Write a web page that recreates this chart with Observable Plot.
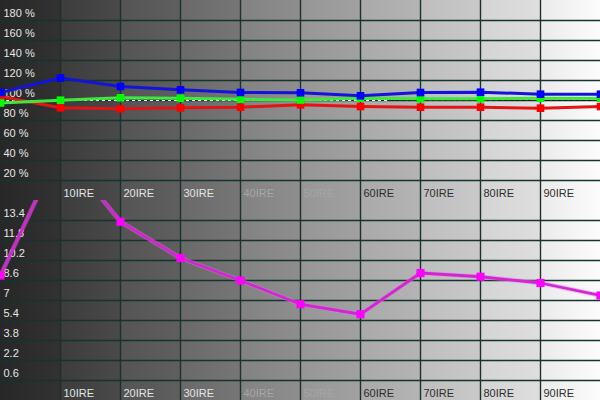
<!DOCTYPE html>
<html>
<head>
<meta charset="utf-8">
<script src="https://cdn.jsdelivr.net/npm/d3@7"></script>
<script src="https://cdn.jsdelivr.net/npm/@observablehq/plot@0.6"></script>
<style>
  html, body { margin: 0; padding: 0; background: #fff; }
  #chart { width: 600px; height: 400px; position: relative; overflow: hidden; }
  #chart svg { display: block; }
</style>
</head>
<body>
<div id="chart"></div>
<script>
// ---- data ----
const ire = [0, 10, 20, 30, 40, 50, 60, 70, 80, 90, 100];
const redPct   = [104, 92.7, 91.7, 92.7, 93.3, 95.7, 94.0, 93.3, 93.3, 92.3, 94.0];
const greenPct = [97.5, 100.3, 102.7, 102.3, 101.3, 100.5, 102.3, 101.7, 101.7, 102.3, 102.3];
const bluePct  = [108, 122.5, 114, 110.7, 108, 107.7, 104.7, 108, 108.3, 106.3, 106.3];
const deltaE   = [9.0, 19.2, 13.3, 10.4, 8.6, 6.7, 5.9, 9.2, 8.9, 8.4, 7.4];
const pctTicks = [20, 40, 60, 80, 100, 120, 140, 160, 180];
const dETicks  = [0.6, 2.2, 3.8, 5.4, 7, 8.6, 10.2, 11.8, 13.4];
const ireLabels = [10, 20, 30, 40, 50, 60, 70, 80, 90];
const refLevel = 100;
const bandShades = [
  ["#272727", "#323232"], ["#3c3c3c", "#4a4a4a"], ["#545454", "#5f5f5f"],
  ["#696969", "#767676"], ["#828282", "#8e8e8e"], ["#969696", "#a1a1a1"],
  ["#a9a9a9", "#b4b4b4"], ["#bebebe", "#c9c9c9"], ["#d4d4d4", "#dedede"],
  ["#eaeaea", "#fcfcfc"]
];

// ---- background (stepped grey ramp) ----
const stops = [];
bandShades.forEach(([a, b], i) => {
  const p0 = (i / bandShades.length) * 100, p1 = ((i + 1) / bandShades.length) * 100;
  stops.push(`${a} ${p0}%`, `${b} ${p1}%`);
});
document.getElementById("chart").style.background = `linear-gradient(to right, ${stops.join(", ")})`;

const grid = "#16332d";
const font = "'Liberation Sans', Arial, sans-serif";
const labelColor = (v) => v <= 30 ? "#e4e4e4" : v <= 50 ? "#a6a6a6" : "#2e2e2e";

const rgb = ire.map((x, i) => ({x, r: redPct[i], g: greenPct[i], b: bluePct[i], de: deltaE[i]}));

function basePlot(yDomain, yTicks, fmt, marks) {
  return Plot.plot({
    width: 600, height: 200,
    margin: 0,
    style: {background: "transparent", fontFamily: font, fontSize: "11px"},
    x: {domain: [0, 100], axis: null},
    y: {domain: yDomain, axis: null},
    marks: [
      Plot.ruleX(ireLabels, {stroke: grid, strokeWidth: 1.4}),
      Plot.ruleY(yTicks, {stroke: grid, strokeWidth: 1.4}),
      Plot.text(yTicks, {x: 0, y: d => d, text: fmt, textAnchor: "start", dx: 3, dy: -7, fill: "#e6e6e6", fontSize: 11}),
      Plot.text(ireLabels, {x: d => d, y: yDomain[0], text: d => d + "IRE", textAnchor: "start", dx: 3, dy: -7, fill: labelColor, fontSize: 11}),
      ...marks
    ]
  });
}

const topPanel = basePlot([0, 200], pctTicks, d => d + " %", [
  Plot.ruleY([refLevel], {x1: 0, x2: 65, stroke: "#ffffff", strokeWidth: 1, strokeDasharray: "3,3"}),
  Plot.ruleY([refLevel], {x1: 65, x2: 100, stroke: "#111111", strokeWidth: 1, strokeDasharray: "3,3"}),
  Plot.line(rgb, {x: "x", y: "r", stroke: "#e41414", strokeWidth: 3}),
  Plot.dot(rgb, {x: "x", y: "r", symbol: "square", r: 4.3, fill: "#ff0000"}),
  Plot.line(rgb, {x: "x", y: "g", stroke: "#3ee83e", strokeWidth: 3}),
  Plot.dot(rgb, {x: "x", y: "g", symbol: "square", r: 4.3, fill: "#00ff00"}),
  Plot.line(rgb, {x: "x", y: "b", stroke: "#1414d8", strokeWidth: 3}),
  Plot.dot(rgb, {x: "x", y: "b", symbol: "square", r: 4.3, fill: "#0000ff"})
]);

const bottomPanel = basePlot([-1, 15], dETicks, d => String(d), [
  Plot.line(rgb, {x: "x", y: "de", stroke: "#f070f0", strokeWidth: 4.5, strokeOpacity: 0.45, clip: true}),
  Plot.line(rgb, {x: "x", y: "de", stroke: "#d028d0", strokeWidth: 2.8, clip: true}),
  Plot.dot(rgb, {x: "x", y: "de", symbol: "square", r: 4.6, fill: "#ff00ff", clip: true})
]);

document.getElementById("chart").append(topPanel, bottomPanel);
</script>
</body>
</html>
